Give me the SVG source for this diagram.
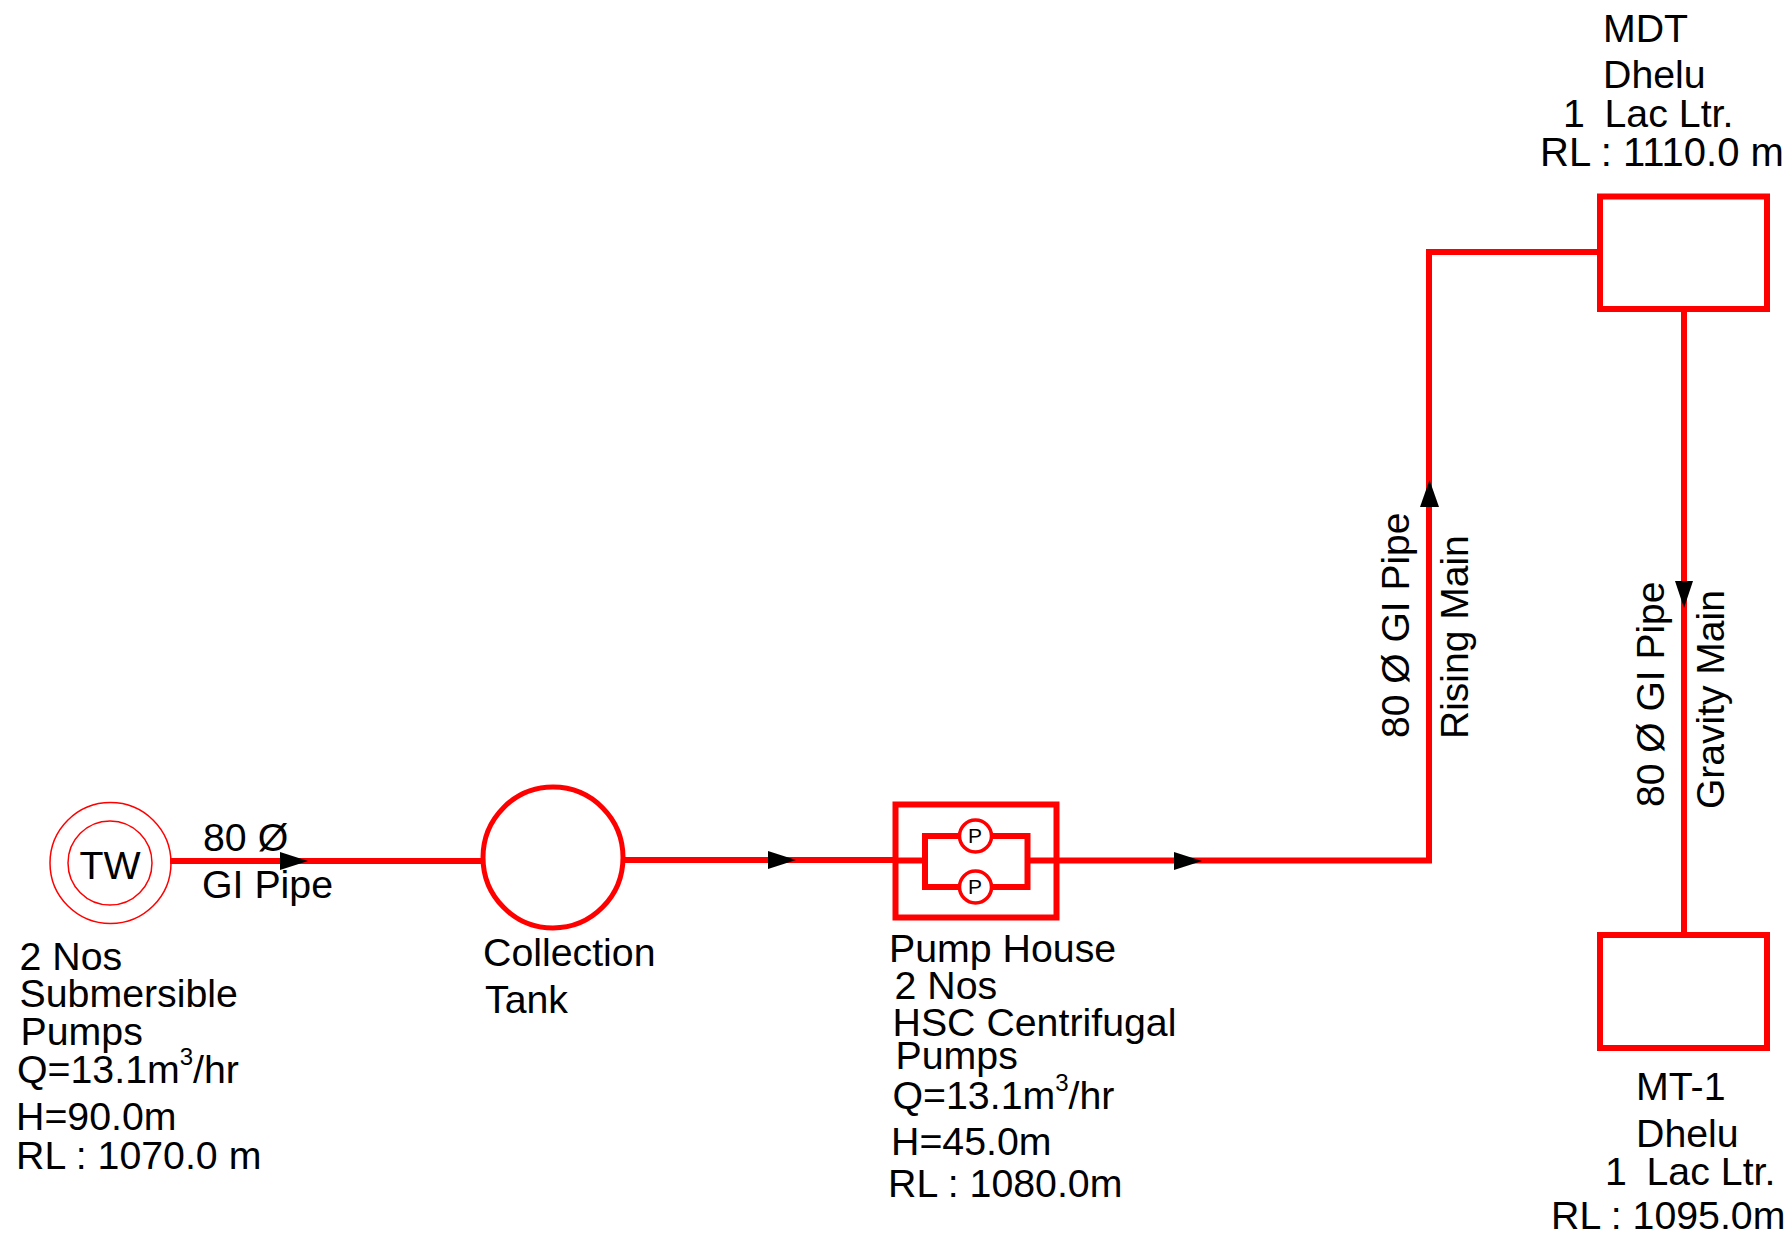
<svg xmlns="http://www.w3.org/2000/svg" width="1786" height="1234" viewBox="0 0 1786 1234">
<style>
text{font-family:"Liberation Sans",Arial,sans-serif;font-size:39.300px;fill:#000;white-space:pre}
.pipe{fill:none;stroke:#f00;stroke-width:6}
.box{fill:#fff;stroke:#f00;stroke-width:6}
.thin{fill:none;stroke:#f00;stroke-width:1.500}
.arrow{fill:#000;stroke:none}
.p{font-size:21px;text-anchor:middle}
.sup{font-size:24px}
.v{font-size:39px}
.w{font-size:40px}
</style>
<rect width="1786" height="1234" fill="#fff"/>
<g id="connectors">
<path class="pipe" d="M170 861H482"/>
<path class="pipe" d="M624 860H894"/>
<path class="pipe" d="M1057 860.500H1429V252H1600"/>
<path class="pipe" d="M1684 310V935"/>
<polygon class="arrow" points="280,852 308,861 280,870"/>
<polygon class="arrow" points="768,851 796,860 768,869"/>
<polygon class="arrow" points="1174,852 1202,861 1174,870"/>
<polygon class="arrow" points="1420,507 1429.500,480 1439,507"/>
<polygon class="arrow" points="1675,581 1684,608 1693,581"/>
<text transform="translate(203,851)">80 Ø</text>
<text transform="translate(202,898)">GI Pipe</text>
<text class="v" transform="translate(1409,738) rotate(-90)">80 Ø GI Pipe</text>
<text class="v" transform="translate(1468,739) rotate(-90)">Rising Main</text>
<text class="v" transform="translate(1664,807) rotate(-90)">80 Ø GI Pipe</text>
<text class="v" transform="translate(1724,809) rotate(-90)">Gravity Main</text>
</g>
<g id="node-tw">
<circle class="thin" cx="110.500" cy="863" r="60.500"/>
<circle class="thin" cx="110" cy="863" r="42"/>
<text x="110" y="879" text-anchor="middle">TW</text>
<text x="19.500" y="970">2 Nos</text>
<text x="19.500" y="1007">Submersible</text>
<text x="20.500" y="1045">Pumps</text>
<text x="17" y="1083">Q=13.1m<tspan class="sup" dy="-18">3</tspan><tspan dy="18">/hr</tspan></text>
<text x="16" y="1130">H=90.0m</text>
<text x="16" y="1169">RL : 1070.0 m</text>
</g>
<g id="node-collection-tank">
<ellipse cx="553" cy="857.500" rx="70" ry="70.500" fill="#fff" stroke="#f00" stroke-width="5"/>
<text x="483" y="966">Collection</text>
<text x="485" y="1013">Tank</text>
</g>
<g id="node-pump-house">
<rect x="895.500" y="804.500" width="161" height="113" fill="none" stroke="#f00" stroke-width="6"/>
<path class="pipe" d="M894 860.500H925M1027 860.500H1057"/>
<path class="pipe" d="M925 836H1027.500V887H925Z"/>
<circle cx="975.500" cy="836" r="16" fill="#fff" stroke="#f00" stroke-width="3.500"/>
<circle cx="975.500" cy="887" r="16" fill="#fff" stroke="#f00" stroke-width="3.500"/>
<text class="p" x="975" y="843">P</text>
<text class="p" x="975" y="894">P</text>
<text x="889" y="962">Pump House</text>
<text x="894.500" y="999">2 Nos</text>
<text x="892.500" y="1036">HSC Centrifugal</text>
<text x="895.500" y="1069">Pumps</text>
<text x="892.500" y="1109">Q=13.1m<tspan class="sup" dy="-18">3</tspan><tspan dy="18">/hr</tspan></text>
<text x="891" y="1155">H=45.0m</text>
<text x="888" y="1197">RL : 1080.0m</text>
</g>
<g id="node-mdt">
<rect class="box" x="1600" y="196.500" width="167" height="112.500"/>
<text x="1603" y="42">MDT</text>
<text x="1603" y="88">Dhelu</text>
<text x="1563" y="127">1<tspan x="1604.500">Lac Ltr.</tspan></text>
<text class="w" x="1540" y="166">RL : 1110.0 m</text>
</g>
<g id="node-mt-1">
<rect class="box" x="1600" y="935" width="167" height="113"/>
<text x="1636" y="1100">MT-1</text>
<text x="1636" y="1147">Dhelu</text>
<text x="1605" y="1185">1<tspan x="1646.500">Lac Ltr.</tspan></text>
<text x="1551" y="1229">RL : 1095.0m</text>
</g>
</svg>
